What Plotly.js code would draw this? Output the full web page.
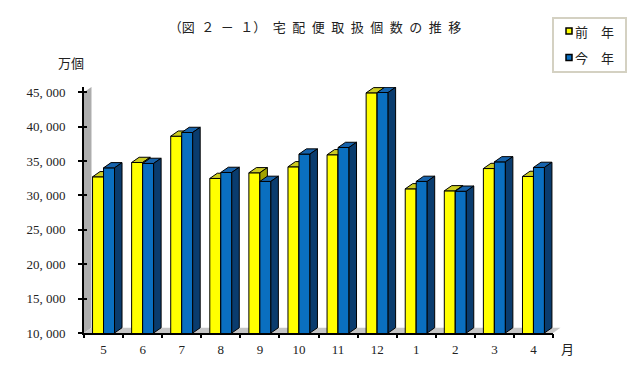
<!DOCTYPE html>
<html>
<head>
<meta charset="utf-8">
<script src="https://cdn.plot.ly/plotly-3.0.1.min.js"></script>
<style>html,body{margin:0;padding:0;background:#fff;}#chart{width:635px;height:372px;}</style>
</head>
<body>
<div id="chart"></div>
<script>
// ---- data ----
const months = ['5','6','7','8','9','10','11','12','1','2','3','4'];
const prevYear = [32700, 34780, 38600, 32460, 33280, 34150, 35900, 44900, 30950, 30660, 33900, 32750];
const thisYear = [34000, 34640, 39140, 33330, 32030, 36000, 36960, 44950, 32030, 30600, 34870, 34060];
const seriesNames = ['前　年', '今　年'];
const yTickVals = [10000, 15000, 20000, 25000, 30000, 35000, 40000, 45000];
const yTickLabels = ['10, 000', '15, 000', '20, 000', '25, 000', '30, 000', '35, 000', '40, 000', '45, 000'];
const titleChars = ['（図', '２', '－', '１）', '宅', '配', '便', '取', '扱', '個', '数', 'の', '推', '移'];
const yUnit = '万個';
const xUnit = '月';

// ---- geometry / style ----
const L = 84, T = 87, PW = 469, PH = 246;
const W = 0.281, DX = 0.192, DY = 760, BASE = 10000, YTOP = 45750;
const fx = px => (px - L) / PW;
const fy = py => (T + PH - py) / PH;
const colors = {
  prev: {front: '#FFFF00', top: '#CCCC22', side: '#A3A300'},
  curr: {front: '#0A6FC0', top: '#1663AC', side: '#0A3C6E'}
};
const idx = months.map((m, i) => i);

function faces(vals, shift) {
  const top = {x: [], y: []}, side = {x: [], y: []}, cx = [];
  vals.forEach((v, i) => {
    const c = i + shift;
    cx.push(c);
    const x0 = c - W / 2, x1 = c + W / 2;
    top.x.push(x0, x1, x1 + DX, x0 + DX, x0, null);
    top.y.push(v, v, v + DY, v + DY, v, null);
    side.x.push(x1, x1 + DX, x1 + DX, x1, x1, null);
    side.y.push(BASE, BASE + DY, v + DY, v, BASE, null);
  });
  return {top, side, cx};
}

function seriesTraces(vals, shift, col, xa, ya, name) {
  const f = faces(vals, shift);
  const ln = {color: '#000', width: 1};
  return [
    {type: 'bar', x: f.cx, y: vals, width: W, name: name, xaxis: xa, yaxis: ya,
     marker: {color: col.front, line: ln}, showlegend: false, hoverinfo: 'skip'},
    {type: 'scatter', mode: 'lines', x: f.top.x, y: f.top.y, fill: 'toself', fillcolor: col.top,
     line: ln, xaxis: xa, yaxis: ya, showlegend: false, hoverinfo: 'skip'},
    {type: 'scatter', mode: 'lines', x: f.side.x, y: f.side.y, fill: 'toself', fillcolor: col.side,
     line: ln, xaxis: xa, yaxis: ya, showlegend: false, hoverinfo: 'skip'}
  ];
}

const traces = [].concat(
  seriesTraces(prevYear, -W / 2, colors.prev, 'x', 'y', seriesNames[0]),
  seriesTraces(thisYear, W / 2, colors.curr, 'x2', 'y2', seriesNames[1])
);

const dxPaper = DX / months.length;
const shapes = [
  // wall
  {type: 'path', xref: 'paper', yref: 'y', layer: 'below',
   path: `M 0 ${BASE} L 0 45000 L ${dxPaper} ${45000 + DY} L ${dxPaper} ${BASE + DY} Z`,
   fillcolor: '#ADADAD', line: {width: 0}},
  // floor
  {type: 'path', xref: 'paper', yref: 'y', layer: 'below',
   path: `M 0 ${BASE} L 1 ${BASE} L ${1 + dxPaper} ${BASE + DY} L ${dxPaper} ${BASE + DY} Z`,
   fillcolor: '#C6C6C6', line: {width: 0}},
  // legend box
  {type: 'rect', xref: 'paper', yref: 'paper', x0: fx(553), x1: fx(626), y0: fy(72), y1: fy(18),
   fillcolor: '#FFFFFF', line: {color: '#D4D1C2', width: 2}},
  {type: 'rect', xref: 'paper', yref: 'paper', x0: fx(566), x1: fx(572), y0: fy(34), y1: fy(28),
   fillcolor: colors.prev.front, line: {color: '#000', width: 1.5}},
  {type: 'rect', xref: 'paper', yref: 'paper', x0: fx(566), x1: fx(572), y0: fy(60.5), y1: fy(54.5),
   fillcolor: colors.curr.front, line: {color: '#000', width: 1.5}}
];

const cjk = '"Noto Sans CJK JP", "Noto Sans CJK SC", sans-serif';
const serif = '"Liberation Serif", "DejaVu Serif", serif';

const annotations = [
  {text: yUnit, xref: 'paper', yref: 'paper', x: fx(71), y: fy(63), showarrow: false,
   xanchor: 'center', yanchor: 'middle', font: {family: cjk, size: 13, color: '#222'}},
  {text: xUnit, xref: 'paper', yref: 'paper', x: fx(567), y: fy(348), showarrow: false,
   xanchor: 'center', yanchor: 'middle', font: {family: cjk, size: 13, color: '#222'}},
  {text: seriesNames[0], xref: 'paper', yref: 'paper', x: fx(573), y: fy(31), showarrow: false,
   xanchor: 'left', yanchor: 'middle', font: {family: cjk, size: 13, color: '#222'}},
  {text: seriesNames[1], xref: 'paper', yref: 'paper', x: fx(573), y: fy(57.5), showarrow: false,
   xanchor: 'left', yanchor: 'middle', font: {family: cjk, size: 13, color: '#222'}}
];

const layout = {
  width: 635, height: 372,
  margin: {l: L, r: 635 - L - PW, t: T, b: 372 - T - PH, pad: 0},
  paper_bgcolor: '#FFFFFF', plot_bgcolor: 'rgba(0,0,0,0)',
  showlegend: false,
  barmode: 'overlay',
  title: {text: titleChars.join('\u2002'), x: 315 / 635, xref: 'container', xanchor: 'center',
          y: 1 - 27 / 372, yref: 'container', yanchor: 'middle',
          font: {family: cjk, size: 13, color: '#222'}},
  xaxis: {range: [-0.5, months.length - 0.5], tickmode: 'array', tickvals: idx, ticktext: months,
          ticks: '', showgrid: false, zeroline: false, showline: true, linecolor: '#000', linewidth: 2,
          tickfont: {family: serif, size: 13, color: '#222'}, ticklabelstandoff: 3, fixedrange: true},
  xaxis2: {overlaying: 'x', matches: 'x', anchor: 'y2', side: 'bottom', tickmode: 'linear',
           tick0: -0.5, dtick: 1, ticks: 'outside', ticklen: 4, tickwidth: 2, tickcolor: '#000',
           showticklabels: false, showgrid: false, zeroline: false, showline: false},
  yaxis: {range: [BASE, YTOP], tickmode: 'array', tickvals: yTickVals, ticktext: yTickLabels,
          ticks: 'outside', ticklen: 4, tickwidth: 2, tickcolor: '#000',
          showgrid: false, zeroline: false, showline: true, linecolor: '#000', linewidth: 2,
          tickfont: {family: serif, size: 13, color: '#222'}, ticklabelstandoff: 10, fixedrange: true},
  yaxis2: {overlaying: 'y', matches: 'y', anchor: 'x2', side: 'left', tickmode: 'array',
           tickvals: yTickVals, ticks: 'inside', ticklen: 3, tickwidth: 2, tickcolor: '#000',
           showticklabels: false, showgrid: false, zeroline: false, showline: false},
  shapes: shapes,
  annotations: annotations
};

Plotly.newPlot('chart', traces, layout, {displayModeBar: false, staticPlot: true});
</script>
</body>
</html>
